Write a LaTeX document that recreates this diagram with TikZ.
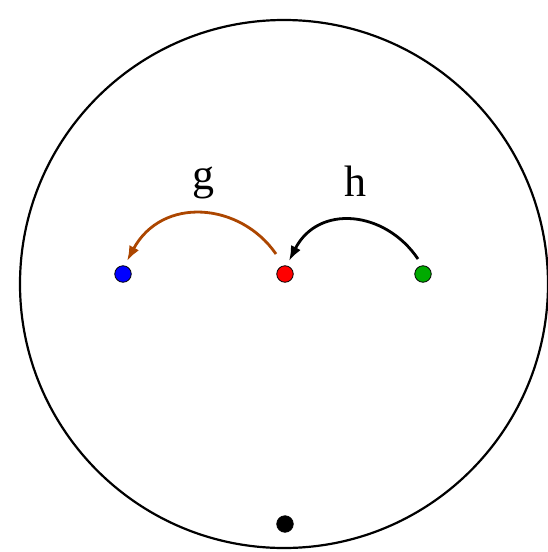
\documentclass[tikz,border=0pt]{standalone}
\usepackage{fontspec}
\setmainfont{Liberation Serif}
\usetikzlibrary{arrows.meta}
\definecolor{gbrown}{RGB}{172,70,0}
\definecolor{dgreen}{RGB}{0,170,0}
\begin{document}
\begin{tikzpicture}[x=1pt,y=-1pt,
  dot/.style={circle,draw=black,line width=0.8pt,inner sep=0pt,minimum size=16.5pt},
  lab/.style={font=\fontsize{44}{48}\selectfont,inner sep=0pt},
  arr/.style={line width=2.8pt,-{Latex[length=15pt,width=11pt]}}]
\useasboundingbox (0,0) rectangle (547,552);
\node[circle,draw,line width=2.2pt,minimum size=528pt,inner sep=0pt] (big) at (284,284) {};
\node[dot,fill=blue] (b) at (123,274) {};
\node[dot,fill=red] (r) at (285,274) {};
\node[dot,fill=dgreen] (gr) at (423,274) {};
\node[dot,fill=black] (k) at (285,524) {};
\node[lab] (g) at (203,183) {g};
\node[lab] (h) at (355,181) {h};
\coordinate (gs) at (276,254);
\coordinate (ge) at (127,261);
\coordinate (hs) at (418,259);
\coordinate (he) at (289,261);
\draw[arr,gbrown] (gs) .. controls (240,202) and (162,196) .. (ge);
\draw[arr,black] (hs) .. controls (385,210) and (318,204) .. (he);
\end{tikzpicture}
\end{document}
